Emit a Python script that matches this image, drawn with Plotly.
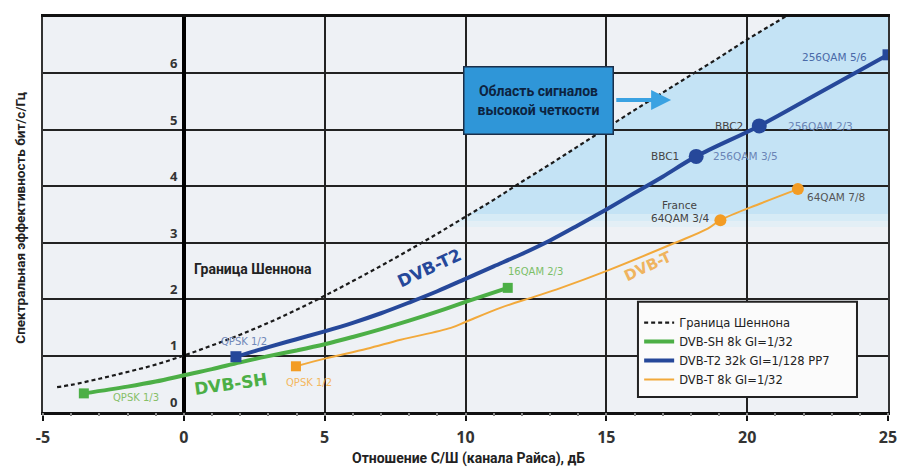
import plotly.graph_objects as go

# ---------------- data ----------------
shannon_x = [-4.5, -4, -3, -2, -1, 0, 1, 2, 3, 4, 5, 6, 7, 8, 9, 10, 11, 12, 13, 14,
             15, 16, 17, 18, 19, 20, 21, 21.5]
shannon_y = [0.44, 0.48, 0.59, 0.71, 0.84, 1.00, 1.18, 1.37, 1.58, 1.81, 2.06, 2.32,
             2.59, 2.87, 3.16, 3.46, 3.76, 4.08, 4.39, 4.71, 5.03, 5.35, 5.66, 5.97,
             6.28, 6.60, 6.90, 7.05]

sh_x = [-3.55, -2, -1, 0, 1, 2, 3, 4, 5, 6, 7, 8, 9, 10, 11.5]
sh_y = [0.33, 0.45, 0.54, 0.65, 0.76, 0.88, 0.99, 1.09, 1.20, 1.33, 1.47, 1.62, 1.78,
        1.95, 2.20]

t2_x = [1.85, 3, 4, 5, 6, 7, 8, 9, 10, 11, 12, 13, 14, 15, 16, 17, 18.19, 20.43,
        22.5, 25]
t2_y = [0.98, 1.15, 1.29, 1.43, 1.58, 1.75, 1.94, 2.14, 2.36, 2.58, 2.80, 3.04,
        3.31, 3.59, 3.88, 4.17, 4.53, 5.07, 5.64, 6.33]

t_x = [3.98, 5.04, 6.5, 7.7, 9.48, 10.02, 11.26, 12.43, 13.39, 15.06, 17.4, 18.6,
       19.05, 20.5, 21.8]
t_y = [0.81, 0.95, 1.12, 1.28, 1.49, 1.60, 1.85, 2.04, 2.20, 2.51, 2.99, 3.25,
       3.40, 3.70, 3.95]

# marked operating points
sh_mark_x = [-3.55, 11.5]
sh_mark_y = [0.33, 2.20]
t2_sq_x = [1.85, 25]
t2_sq_y = [0.98, 6.33]
t2_ci_x = [18.19, 20.43]
t2_ci_y = [4.53, 5.07]
t_sq_x = [3.98]
t_sq_y = [0.81]
t_ci_x = [19.05, 21.8]
t_ci_y = [3.40, 3.95]

x_ticks = [-5, 0, 5, 10, 15, 20, 25]
x_ticktext = ["-5", "0", "5", "10", "15", "20", "25"]
y_ticks = [0, 1, 2, 3, 4, 5, 6]
hd_low = 3.5   # lower edge of the HD region shading

names = ["Граница Шеннона", "DVB-SH 8k GI=1/32", "DVB-T2 32k GI=1/128 PP7", "DVB-T 8k GI=1/32"]

# ---------------- styles ----------------
C_GREEN = "#4caf46"
C_BLUE = "#26489a"
C_ORANGE = "#f2a93b"
C_GRID = "#222222"
NARROW = "Roboto, Liberation Sans, sans-serif"
SANS = "DejaVu Sans, Verdana, sans-serif"

fig = go.Figure()

def interp_x(yv):
    for i in range(len(shannon_y) - 1):
        if shannon_y[i] <= yv <= shannon_y[i + 1]:
            f = (yv - shannon_y[i]) / (shannon_y[i + 1] - shannon_y[i])
            return shannon_x[i] + f * (shannon_x[i + 1] - shannon_x[i])
    return shannon_x[-1]

def region_path(ylo, yhi):
    pts = [(interp_x(ylo), ylo)]
    for xx, yy in zip(shannon_x, shannon_y):
        if ylo < yy < yhi:
            pts.append((xx, yy))
    pts.append((interp_x(yhi), yhi))
    pts.append((25, yhi))
    pts.append((25, ylo))
    return "M " + " L ".join(f"{a},{b}" for a, b in pts) + " Z"

shapes = [
    dict(type="path", path=region_path(hd_low, 7.0), xref="x", yref="y",
         fillcolor="#c4e3f5", line=dict(width=0), layer="below"),
    dict(type="path", path=region_path(hd_low - 0.12, hd_low), xref="x", yref="y",
         fillcolor="#d6ebf6", line=dict(width=0), layer="below"),
    dict(type="path", path=region_path(hd_low - 0.22, hd_low - 0.12), xref="x", yref="y",
         fillcolor="#e3eff6", line=dict(width=0), layer="below"),
    dict(type="rect", xref="paper", yref="paper", x0=0.7041, x1=0.9633, y0=0.0377, y1=0.2789,
         fillcolor="#fbfbfb", line=dict(color="#222", width=2), layer="above"),
]

fig.add_trace(go.Scatter(x=shannon_x, y=shannon_y, mode="lines", name=names[0],
                         line=dict(color="#1a1a1a", width=2.2, dash="4px,3px", shape="spline"),
                         legendrank=1))
fig.add_trace(go.Scatter(x=sh_x, y=sh_y, mode="lines", name=names[1],
                         line=dict(color=C_GREEN, width=4, shape="spline"), legendrank=2))
fig.add_trace(go.Scatter(x=t2_x, y=t2_y, mode="lines", name=names[2],
                         line=dict(color=C_BLUE, width=4, shape="spline"), legendrank=3))
fig.add_trace(go.Scatter(x=t_x, y=t_y, mode="lines", name=names[3],
                         line=dict(color=C_ORANGE, width=2, shape="spline"), legendrank=4))

fig.add_trace(go.Scatter(x=sh_mark_x, y=sh_mark_y, mode="markers", showlegend=False,
                         marker=dict(symbol="square", size=10, color=C_GREEN)))
fig.add_trace(go.Scatter(x=t2_sq_x, y=t2_sq_y, mode="markers", showlegend=False,
                         marker=dict(symbol="square", size=11, color=C_BLUE)))
fig.add_trace(go.Scatter(x=t2_ci_x, y=t2_ci_y, mode="markers", showlegend=False,
                         marker=dict(symbol="circle", size=15, color=C_BLUE)))
fig.add_trace(go.Scatter(x=t_sq_x, y=t_sq_y, mode="markers", showlegend=False,
                         marker=dict(symbol="square", size=10, color="#f39c24")))
fig.add_trace(go.Scatter(x=t_ci_x, y=t_ci_y, mode="markers", showlegend=False,
                         marker=dict(symbol="circle", size=12, color="#f39c24")))
# invisible helper trace so the minor-tick axis is drawn
fig.add_trace(go.Scatter(x=[x_ticks[0]], y=[y_ticks[0]], xaxis="x2", mode="markers",
                         marker=dict(opacity=0), showlegend=False, hoverinfo="skip"))

ann = []
for v in y_ticks:
    ann.append(dict(x=-0.35, y=v + 0.18, xref="x", yref="y", text=str(v), showarrow=False,
                    font=dict(family="Open Sans", size=13, color="#333", weight="bold")))

def lab(x, y, text, color, size=10.5, family=SANS, angle=0, weight="normal"):
    ann.append(dict(x=x, y=y, xref="x", yref="y", text=text, showarrow=False,
                    textangle=angle, font=dict(family=family, size=size, color=color, weight=weight)))

lab(-1.70, 0.26, "QPSK 1/3", "#86bf68", 10)
lab(1.67, 0.49, "DVB-SH", C_GREEN, 17, angle=-8, weight="bold")
lab(2.13, 1.25, "QPSK 1/2", "#7088b8", 10)
lab(4.44, 0.53, "QPSK 1/2", "#f4b860", 10)
lab(2.45, 2.54, "Граница Шеннона", "#222", 14, family=NARROW, weight="bold")
lab(8.70, 2.56, "DVB-T2", C_BLUE, 17, angle=-25, weight="bold")
lab(12.5, 2.49, "16QAM 2/3", "#7cbf68", 10)
lab(16.5, 2.58, "DVB-T", "#efb45e", 15, angle=-25, weight="bold")
lab(17.6, 3.67, "France", "#444", 10.5)
lab(17.6, 3.44, "64QAM 3/4", "#444", 10.5)
lab(23.15, 3.81, "64QAM 7/8", "#555", 10.5)
lab(17.08, 4.53, "BBC1", "#444", 10.5)
lab(19.95, 4.53, "256QAM 3/5", "#6a85b5", 10.5)
lab(19.35, 5.07, "BBC2", "#444", 10.5)
lab(22.6, 5.07, "256QAM 2/3", "#6a85b5", 10.5)
lab(23.1, 6.30, "256QAM 5/6", "#4a6aa8", 10.5)

ann.append(dict(x=17.3, y=5.53, ax=15.3, ay=5.53, xref="x", yref="y", axref="x", ayref="y",
                text="", showarrow=True, arrowhead=2, arrowsize=1.0, arrowwidth=4,
                arrowcolor="#3aa2e2"))
ann.append(dict(x=12.6, y=5.52, xref="x", yref="y", text="Область сигналов<br>высокой четкости",
                showarrow=False, width=146, height=64, bgcolor="#2f96d8", bordercolor="#1b2f4a",
                borderwidth=1.5, font=dict(family=NARROW, size=14, color="#0d2340", weight="bold")))

ann.append(dict(x=0.504, y=-0.118, xref="paper", yref="paper", xanchor="center", yanchor="middle",
                text="Отношение С/Ш (канала Райса), дБ",
                showarrow=False, font=dict(family=NARROW, size=14, color="#222", weight="bold")))
ann.append(dict(x=-0.0272, y=0.492, xref="paper", yref="paper", xanchor="center", yanchor="middle",
                text="Спектральная эффективность бит/с/Гц",
                showarrow=False, textangle=-90,
                font=dict(family=NARROW, size=13.5, color="#222", weight="bold")))

# page body has an 8px margin: size the figure so the plot area lands where the reference has it
fig.update_layout(
    width=905, height=459, autosize=False,
    margin=dict(l=35, r=25, t=6, b=55),
    paper_bgcolor="white", plot_bgcolor="#eef1f5",
    shapes=shapes, annotations=ann,
    legend=dict(x=0.7055, y=0.263, xanchor="left", yanchor="top", bgcolor="rgba(0,0,0,0)",
                borderwidth=0, font=dict(family=SANS, size=11.5, color="#222"), tracegroupgap=0,
                traceorder="normal"),
    xaxis=dict(range=[-5, 25], tickmode="array", tickvals=x_ticks, ticktext=x_ticktext,
               showgrid=True, gridcolor=C_GRID, gridwidth=2,
               zeroline=True, zerolinecolor="#000", zerolinewidth=3.5,
               showline=True, linecolor="#111", linewidth=3, mirror=True,
               ticks="outside", ticklen=6, tickwidth=2, tickcolor="#111",
               tickfont=dict(family="Open Sans", size=16, color="#333", weight="bold"),
               ticklabelstandoff=3),
    xaxis2=dict(range=[-5, 25], overlaying="x", anchor="y", side="bottom",
                tickmode="linear", tick0=-5, dtick=1, ticks="outside", ticklen=3,
                tickwidth=1.5, tickcolor="#888", showticklabels=False, showgrid=False,
                zeroline=False, showline=False),
    yaxis=dict(range=[0, 7], tickmode="linear", tick0=0, dtick=1, showticklabels=False,
               showgrid=True, gridcolor=C_GRID, gridwidth=2, zeroline=False,
               showline=True, linecolor="#333", linewidth=1.5, mirror=True, ticks=""),
)

fig.write_html("out.html")
